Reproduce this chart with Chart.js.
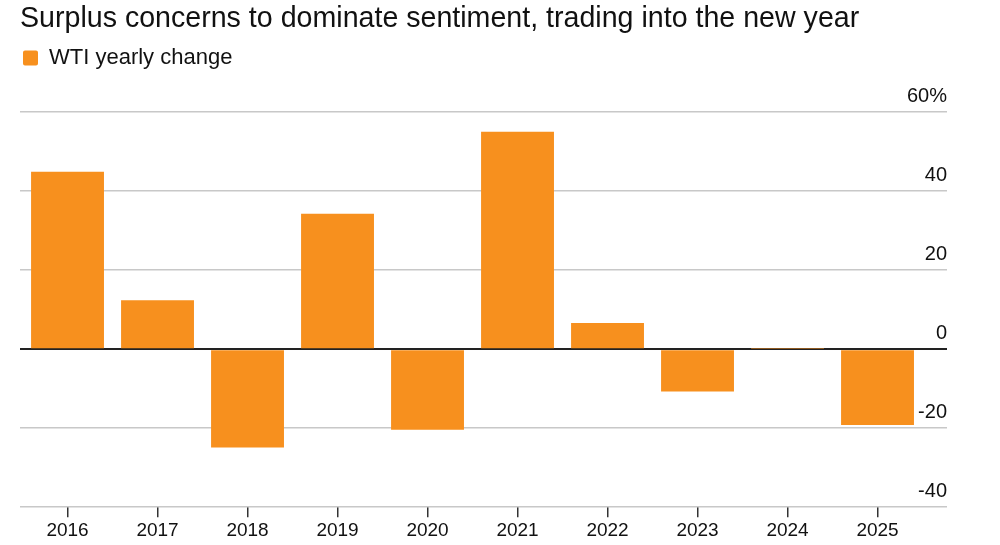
<!DOCTYPE html>
<html>
<head>
<meta charset="utf-8">
<title>WTI yearly change</title>
<script src="https://cdn.jsdelivr.net/npm/chart.js@4.4.1/dist/chart.umd.min.js"></script>
<style>
    html, body { margin: 0; padding: 0; background: #fff; }
    #wrap { width: 1000px; height: 545px; }
</style>
</head>
<body>
<div id="wrap"><canvas id="chart"></canvas></div>
<script>
const years = ['2016', '2017', '2018', '2019', '2020', '2021', '2022', '2023', '2024', '2025'];
const wtiChange = [44.9, 12.4, -24.9, 34.3, -20.4, 55.0, 6.6, -10.7, 0.1, -19.2];
const yTicks = [-40, -20, 0, 20, 40, 60];

const FONT = "'Liberation Sans', Arial, Helvetica, sans-serif";
const ORANGE = '#f7901e';

// agranda el alto de la leyenda para dejar aire antes del grafico
const legendSpacer = {
    id: 'legendSpacer',
    beforeInit(chart) {
        const legend = chart.legend;
        const origFit = legend.fit;
        legend.fit = function () {
            origFit.call(this);
            this.height += 33;
        };
    }
};

const ctx = document.getElementById('chart').getContext('2d');
new Chart(ctx, {
    type: 'bar',
    data: {
        datasets: [{
            label: 'WTI yearly change',
            data: wtiChange.map((v, i) => ({ x: i, y: v })),
            backgroundColor: ORANGE,
            borderWidth: 0,
            barPercentage: 0.81,
            categoryPercentage: 1
        }]
    },
    plugins: [legendSpacer],
    options: {
        responsive: true,
        maintainAspectRatio: false,
        animation: false,
        layout: { padding: { left: 20, right: 53, top: 0, bottom: 1 } },
        plugins: {
            tooltip: { enabled: false },
            title: {
                display: true,
                text: 'Surplus concerns to dominate sentiment, trading into the new year',
                align: 'start',
                color: '#111',
                font: { family: FONT, size: 28.6, weight: 'normal' },
                padding: { top: 1.5, bottom: 8.3 }
            },
            legend: {
                display: true,
                align: 'start',
                labels: {
                    color: '#111',
                    font: { family: FONT, size: 22 },
                    boxWidth: 15,
                    boxHeight: 15,
                    padding: 3,
                    useBorderRadius: true,
                    borderRadius: 2
                }
            }
        },
        scales: {
            x: {
                type: 'linear',
                offset: false,
                min: -0.528,
                max: 9.772,
                afterBuildTicks: scale => {
                    scale.ticks = years.map((_, i) => ({ value: i }));
                },
                ticks: {
                    autoSkip: false,
                    maxRotation: 0,
                    padding: 2,
                    color: '#111',
                    font: { family: FONT, size: 19 },
                    callback: value => years[value]
                },
                grid: {
                    offset: false,
                    drawOnChartArea: false,
                    drawTicks: true,
                    tickLength: 10,
                    color: '#333',
                    lineWidth: 1.5
                },
                border: { display: false }
            },
            y: {
                position: 'right',
                min: -40,
                max: 60,
                afterBuildTicks: scale => {
                    scale.ticks = yTicks.map(v => ({ value: v }));
                },
                ticks: {
                    mirror: true,
                    padding: 0,
                    labelOffset: -16,
                    color: '#111',
                    font: { family: FONT, size: 20 },
                    callback: value => value === 60 ? '60%' : String(value)
                },
                grid: {
                    drawTicks: false,
                    color: c => c.tick && c.tick.value === 0 ? '#222' : '#c8c8c8',
                    lineWidth: c => c.tick && c.tick.value === 0 ? 2 : 1.5
                },
                border: { display: false }
            }
        }
    }
});
</script>
</body>
</html>
